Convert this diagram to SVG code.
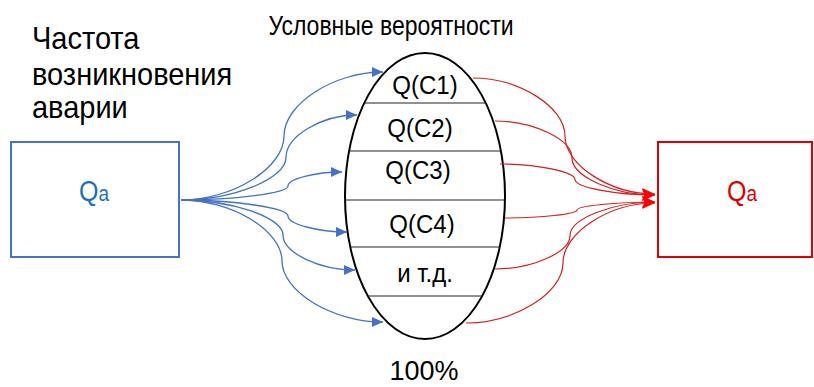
<svg xmlns="http://www.w3.org/2000/svg" width="814" height="387" viewBox="0 0 814 387">
<defs>
<style>
text{font-family:"Liberation Sans",Arial,sans-serif;fill:#000}
.lbl{font-size:29px}
.cell{font-size:24px;text-anchor:middle}
.blue{fill:none;stroke:#4472C4;stroke-width:1.3}
.red{fill:none;stroke:#D42020;stroke-width:1.2}
.chord{stroke:#222;stroke-width:1.2}
</style>
<marker id="ab" markerUnits="userSpaceOnUse" markerWidth="12" markerHeight="10" refX="11" refY="5" orient="auto">
<path d="M0,0 L11,5 L0,10 z" fill="#4472C4"/>
</marker>
<marker id="ar" markerUnits="userSpaceOnUse" markerWidth="14" markerHeight="12" refX="13" refY="6" orient="auto">
<path d="M0,0 L13,6 L0,12 L3,6 z" fill="#FF0000"/>
</marker>
</defs>
<rect width="814" height="387" fill="#fff"/>

<g id="title">
<text transform="translate(391,35) scale(1,1.2)" style="font-size:23px;text-anchor:middle">Условные вероятности</text>
</g>
<g id="freq-label">
<text class="lbl" transform="translate(32,49) scale(1,1.1)">Частота</text>
<text class="lbl" transform="translate(32,85) scale(1,1.1)">возникновения</text>
<text class="lbl" transform="translate(32,118) scale(1,1.1)">аварии</text>
</g>
<g id="total">
<text transform="translate(424,380) scale(1,1.03)" style="font-size:27px;text-anchor:middle">100%</text>
</g>

<g id="source">
<rect x="11" y="142" width="168" height="115" fill="none" stroke="#4472C4" stroke-width="2"/>
<text transform="translate(79,201) scale(1,1.15)" style="font-size:25px;fill:#1F6FBF">Q<tspan style="font-size:19px">a</tspan></text>
</g>

<g id="target">
<rect x="658" y="142" width="154" height="115" fill="none" stroke="#E00000" stroke-width="2"/>
<text transform="translate(727,201) scale(1,1.15)" style="font-size:25px;fill:#E00000">Q<tspan style="font-size:19px">a</tspan></text>
</g>

<g id="probabilities">
<ellipse cx="425" cy="196" rx="80" ry="143" fill="#fff" stroke="#000" stroke-width="2"/>
<line class="chord" x1="364" y1="103" x2="486" y2="103"/>
<line class="chord" x1="349" y1="151" x2="501" y2="151"/>
<line class="chord" x1="345" y1="200" x2="505" y2="200"/>
<line class="chord" x1="350" y1="247" x2="500" y2="247"/>
<line class="chord" x1="368" y1="296" x2="482" y2="296"/>
<text class="cell" transform="translate(425,94) scale(1,1.06)">Q(C1)</text>
<text class="cell" transform="translate(420,137) scale(1,1.06)">Q(C2)</text>
<text class="cell" transform="translate(418,179) scale(1,1.06)">Q(C3)</text>
<text class="cell" transform="translate(422,233) scale(1,1.06)">Q(C4)</text>
<text class="cell" transform="translate(425,282) scale(1,1.06)">и т.д.</text>
</g>

<g id="connectors">
<path class="blue" marker-end="url(#ab)" d="M181,200 C232.5,200 284,168 284,136 C284,104 333.5,72 383,72"/>
<path class="blue" marker-end="url(#ab)" d="M181,200 C233.5,200 286,178.75 286,157.5 C286,136.25 321.5,115 357,115"/>
<path class="blue" marker-end="url(#ab)" d="M181,200 C234.5,200 288,193 288,186 C288,179 315,172 342,172"/>
<path class="blue" marker-end="url(#ab)" d="M181,200 C234.5,200 288,208 288,216 C288,224 317.5,232 347,232"/>
<path class="blue" marker-end="url(#ab)" d="M181,200 C232,200 283,217.5 283,235 C283,252.5 319,270 355,270"/>
<path class="blue" marker-end="url(#ab)" d="M181,200 C231.5,200 282,230.5 282,261 C282,291.5 332.5,322 383,322"/>
<path class="red" marker-end="url(#ar)" d="M473,78 C519,78 565,107 565,136 C565,165 610,194 655,194"/>
<path class="red" marker-end="url(#ar)" d="M495,121 C533.5,121 572,139.5 572,158 C572,176.5 613.5,195 655,195"/>
<path class="red" marker-end="url(#ar)" d="M500,164 C537.5,164 575,171.75 575,179.5 C575,187.25 615,195 655,195"/>
<path class="red" marker-end="url(#ar)" d="M505,218 C541,218 577,214 577,210 C577,206 616,202 655,202"/>
<path class="red" marker-end="url(#ar)" d="M495,269 C532.5,269 570,252.25 570,235.5 C570,218.75 612.5,202 655,202"/>
<path class="red" marker-end="url(#ar)" d="M466,323 C514.5,323 563,293 563,263 C563,233 609,203 655,203"/>
</g>
</svg>
